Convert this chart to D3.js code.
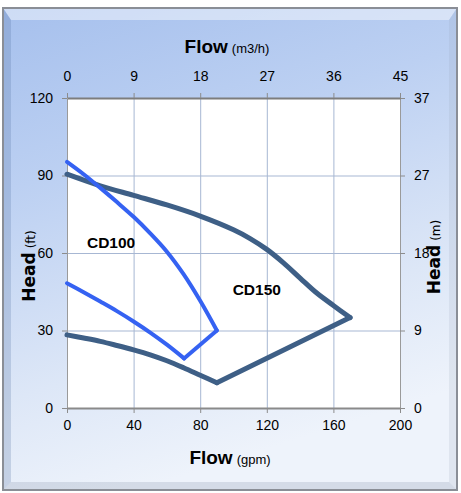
<!DOCTYPE html>
<html>
<head>
<meta charset="utf-8">
<script src="https://cdn.jsdelivr.net/npm/d3@7"></script>
<style>
  html, body { margin: 0; padding: 0; background: #ffffff; }
  svg { display: block; }
</style>
</head>
<body>
<svg id="chart" width="461" height="493"></svg>
<script>
// ---------- DATA ----------
const gpmTicks = [0, 40, 80, 120, 160, 200];
const m3hTickLabels = ["0", "9", "18", "27", "36", "45"];
const ftTicks = [0, 30, 60, 90, 120];
const mTickLabels = ["0", "9", "18", "27", "37"];

// CD150 curve (gpm, ft)
const cd150UpperGpm = [0, 20, 40, 60, 80, 100, 110, 120, 130, 140, 150, 160, 170];
const cd150UpperFt  = [90.5, 86, 82.3, 78.6, 74.3, 69, 65.6, 61.4, 56.2, 50.3, 44.5, 39.7, 35];
const cd150LowerGpm = [0, 10, 20, 30, 40, 50, 60, 70, 80, 90];
const cd150LowerFt  = [28.3, 27.1, 25.8, 24.2, 22.5, 20.6, 18.3, 15.6, 12.7, 9.8];
const cd150EdgeGpm = [90, 170];
const cd150EdgeFt  = [9.8, 35];

// CD100 curve (gpm, ft)
const cd100UpperGpm = [0, 10, 20, 30, 40, 50, 60, 70, 80, 90];
const cd100UpperFt  = [95.3, 90.5, 85.2, 79.7, 74, 67.6, 60.5, 51.8, 41.5, 30];
const cd100EdgeGpm = [90, 70.3];
const cd100EdgeFt  = [30, 19.2];
const cd100LowerGpm = [70.3, 60, 50, 40, 30, 20, 10, 0];
const cd100LowerFt  = [19.2, 24.5, 29.2, 33.5, 37.5, 41.2, 44.8, 48.3];

const seriesNames = ["CD100", "CD150"];
const seriesLabelGpm = [26.5, 114];
const seriesLabelFt = [62, 43.8];

// ---------- LAYOUT ----------
const plot = { left: 67, right: 400, top: 98, bottom: 408 };
const svg = d3.select("#chart");
const defs = svg.append("defs");

const x = d3.scaleLinear().domain([0, 200]).range([plot.left, plot.right]);
const y = d3.scaleLinear().domain([0, 120]).range([plot.bottom, plot.top]);

// background frame gradient
const bg = defs.append("linearGradient").attr("id", "bgGrad")
  .attr("x1", "0").attr("y1", "0").attr("x2", "0.3").attr("y2", "1");
bg.append("stop").attr("offset", "0").attr("stop-color", "#a6c0ed");
bg.append("stop").attr("offset", "0.35").attr("stop-color", "#bcd0f2");
bg.append("stop").attr("offset", "0.75").attr("stop-color", "#dde7f7");
bg.append("stop").attr("offset", "1").attr("stop-color", "#eef3fb");

const fx = 3, fy = 8, fw = 454, fh = 482, bv = 8;
svg.append("rect").attr("x", fx).attr("y", fy).attr("width", fw).attr("height", fh)
  .attr("fill", "url(#bgGrad)");
// bevels
svg.append("polygon")
  .attr("points", `${fx},${fy} ${fx+fw},${fy} ${fx+fw-bv},${fy+bv+4} ${fx+bv},${fy+bv+4}`)
  .attr("fill", "#ffffff").attr("opacity", 0.45);
svg.append("polygon")
  .attr("points", `${fx},${fy} ${fx+bv},${fy+bv+4} ${fx+bv},${fy+fh-bv} ${fx},${fy+fh}`)
  .attr("fill", "#4a6a9a").attr("opacity", 0.22);
svg.append("polygon")
  .attr("points", `${fx},${fy+fh} ${fx+bv},${fy+fh-bv} ${fx+fw-bv},${fy+fh-bv} ${fx+fw},${fy+fh}`)
  .attr("fill", "#7a8aa0").attr("opacity", 0.22);
svg.append("polygon")
  .attr("points", `${fx+fw},${fy} ${fx+fw},${fy+fh} ${fx+fw-bv},${fy+fh-bv} ${fx+fw-bv},${fy+bv+4}`)
  .attr("fill", "#8a98b0").attr("opacity", 0.15);
svg.append("rect").attr("x", fx).attr("y", fy).attr("width", fw).attr("height", fh)
  .attr("fill", "none").attr("stroke", "#8a8e96").attr("stroke-width", 2);

// plot area
svg.append("rect").attr("x", plot.left).attr("y", plot.top)
  .attr("width", plot.right - plot.left).attr("height", plot.bottom - plot.top)
  .attr("fill", "#ffffff");

// gridlines
const gridColor = "#a7b7d3";
svg.append("g").selectAll("line").data(gpmTicks.slice(1, -1)).join("line")
  .attr("x1", d => x(d) + 0.5).attr("x2", d => x(d) + 0.5)
  .attr("y1", plot.top).attr("y2", plot.bottom)
  .attr("stroke", gridColor).attr("stroke-width", 1);
svg.append("g").selectAll("line").data(ftTicks.slice(1, -1)).join("line")
  .attr("x1", plot.left).attr("x2", plot.right)
  .attr("y1", d => y(d) + 0.5).attr("y2", d => y(d) + 0.5)
  .attr("stroke", gridColor).attr("stroke-width", 1);

// axes
const tickFont = "'Liberation Sans Narrow', 'Arial Narrow', 'Liberation Sans', sans-serif";
function styleAxis(g) {
  g.select(".domain").attr("stroke", "#9a9a9a").attr("stroke-width", 1);
  g.selectAll(".tick line").attr("stroke", "#8c8c8c");
  g.selectAll(".tick text").attr("fill", "#000").attr("font-family", tickFont).attr("font-size", "14px");
}
const axL = svg.append("g").attr("transform", `translate(${plot.left},0)`)
  .call(d3.axisLeft(y).tickValues(ftTicks).tickSize(5).tickPadding(9).tickSizeOuter(0));
styleAxis(axL);
const axR = svg.append("g").attr("transform", `translate(${plot.right},0)`)
  .call(d3.axisRight(y).tickValues(ftTicks).tickSize(5).tickPadding(9).tickSizeOuter(0)
    .tickFormat((d, i) => mTickLabels[i]));
styleAxis(axR);
const axB = svg.append("g").attr("transform", `translate(0,${plot.bottom})`)
  .call(d3.axisBottom(x).tickValues(gpmTicks).tickSize(5).tickPadding(7).tickSizeOuter(0));
styleAxis(axB);
const axT = svg.append("g").attr("transform", `translate(0,${plot.top})`)
  .call(d3.axisTop(x).tickValues(gpmTicks).tickSize(5).tickPadding(12).tickSizeOuter(0)
    .tickFormat((d, i) => m3hTickLabels[i]));
styleAxis(axT);
axT.select(".domain").attr("stroke", "#7d7d7d").attr("stroke-width", 2.2);
axB.select(".domain").attr("stroke", "#8a8a8a").attr("stroke-width", 1.8);

// curves
const smooth = d3.line().x(d => x(d[0])).y(d => y(d[1])).curve(d3.curveCatmullRom.alpha(0.5));
const lin = d3.line().x(d => x(d[0])).y(d => y(d[1]));
const zip = (a, b) => a.map((v, i) => [v, b[i]]);

const c150 = "#3e5f86", c100 = "#3562f2";
function drawPath(gen, data, color, w) {
  svg.append("path").attr("d", gen(data))
    .attr("fill", "none").attr("stroke", color).attr("stroke-width", w)
    .attr("stroke-linecap", "round").attr("stroke-linejoin", "round");
}
drawPath(smooth, zip(cd150UpperGpm, cd150UpperFt), c150, 5);
drawPath(smooth, zip(cd150LowerGpm, cd150LowerFt), c150, 5);
drawPath(lin, zip(cd150EdgeGpm, cd150EdgeFt), c150, 5);

drawPath(smooth, zip(cd100UpperGpm, cd100UpperFt), c100, 4);
drawPath(lin, zip(cd100EdgeGpm, cd100EdgeFt), c100, 4);
drawPath(smooth, zip(cd100LowerGpm, cd100LowerFt), c100, 4);

// series labels
svg.append("g").selectAll("text").data(seriesNames).join("text")
  .attr("x", (d, i) => x(seriesLabelGpm[i])).attr("y", (d, i) => y(seriesLabelFt[i]))
  .attr("text-anchor", "middle")
  .attr("font-family", "'Liberation Sans', Arial, sans-serif").attr("font-weight", "bold")
  .attr("font-size", "15.5px").attr("fill", "#000")
  .text(d => d);

// axis titles
const titleFont = "'Liberation Sans', Arial, sans-serif";
function flowTitle(cx, by, unit) {
  const t = svg.append("text").attr("x", cx).attr("y", by).attr("text-anchor", "middle")
    .attr("font-family", titleFont).attr("fill", "#000");
  t.append("tspan").attr("font-weight", "bold").attr("font-size", "19px").text("Flow");
  t.append("tspan").attr("font-size", "13px").attr("dx", 4).text(unit);
}
flowTitle(227, 53, "(m3/h)");
flowTitle(230, 464, "(gpm)");

function headTitle(cx, cy, unit) {
  const t = svg.append("text").attr("transform", `translate(${cx},${cy}) rotate(-90)`)
    .attr("text-anchor", "middle").attr("font-family", "'DejaVu Sans', Verdana, sans-serif")
    .attr("fill", "#000");
  t.append("tspan").attr("font-weight", "bold").attr("font-size", "17px").text("Head");
  t.append("tspan").attr("font-size", "12px").attr("dx", 4).text(unit);
}
headTitle(35, 266, "(ft)");
headTitle(440, 257, "(m)");
</script>
</body>
</html>
